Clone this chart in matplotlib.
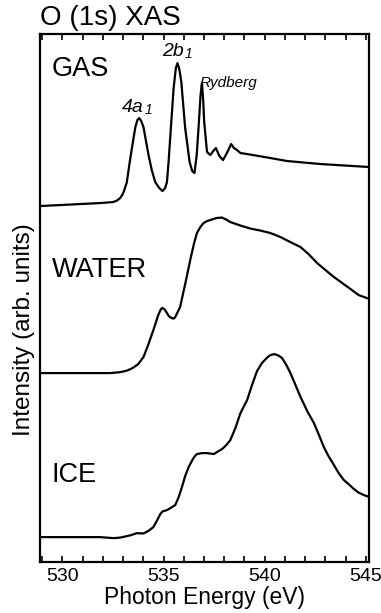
import matplotlib
matplotlib.use('Agg')
import matplotlib.pyplot as plt
from matplotlib.ticker import MultipleLocator

# Photon energy (eV) and intensity (arb. units)
gas_e = [528.90, 531.87, 532.20, 532.51, 532.70, 532.86, 532.96, 533.05, 533.19, 533.31,
         533.44, 533.61, 533.71, 533.80, 533.90, 534.01, 534.26, 534.42, 534.59, 534.79,
         534.95, 535.08, 535.17, 535.25, 535.33, 535.50, 535.61, 535.69, 535.78, 535.88,
         536.07, 536.29, 536.42, 536.53, 536.64, 536.73, 536.83, 536.90, 536.96, 537.01,
         537.15, 537.31, 537.46, 537.59, 537.76, 537.94, 538.13, 538.34, 538.48, 538.63,
         538.80, 539.13, 540.28, 541.11, 542.76, 545.18]
gas_i = [356, 359, 359.5, 360, 361.5, 364, 367, 371, 380, 397,
         414, 435, 442, 444, 441, 435, 407, 392, 380, 374,
         371, 374, 380, 400, 424, 474, 494, 499, 493, 480,
         434, 400, 391, 389, 407, 434, 467, 479, 462, 440,
         410, 407, 411, 414, 406, 402, 409, 418, 414, 412,
         409, 408, 404, 401, 398, 395]

water_e = [528.90, 532.36, 532.80, 533.00, 533.19, 533.35, 533.51, 533.75, 534.01, 534.24,
           534.50, 534.74, 534.85, 534.92, 535.00, 535.08, 535.26, 535.40, 535.50, 535.58,
           535.65, 535.82, 536.07, 536.32, 536.50, 536.65, 536.82, 536.98, 537.15, 537.31,
           537.61, 537.89, 538.10, 538.30, 538.80, 539.29, 539.79, 540.28, 540.78, 541.36,
           541.77, 542.16, 542.59, 543.00, 543.42, 543.83, 544.24, 544.64, 545.18]
water_i = [189, 189, 189.8, 190.5, 191.5, 192.8, 194.5, 198, 205, 217,
           232, 247, 252, 254, 253.5, 252, 246, 244, 243.5, 245,
           248, 255, 278, 302, 318, 329, 335, 339, 341, 342,
           344, 344.5, 342.5, 340, 336.5, 333.5, 331.5, 329, 325, 319,
           315, 308, 299, 292, 285, 279, 273, 267, 263]

ice_e = [528.90, 531.87, 532.52, 532.86, 533.19, 533.40, 533.68, 533.85, 534.01, 534.24,
         534.50, 534.69, 534.84, 534.92, 534.99, 535.17, 535.38, 535.58, 535.75, 535.91,
         536.07, 536.24, 536.45, 536.55, 536.65, 536.90, 537.15, 537.48, 537.68, 537.89,
         538.10, 538.30, 538.55, 538.80, 539.13, 539.37, 539.62, 539.86, 540.12, 540.28,
         540.48, 540.68, 540.86, 541.07, 541.27, 541.52, 541.77, 542.10, 542.43, 542.66,
         542.92, 543.15, 543.42, 543.65, 543.91, 544.14, 544.41, 544.64, 544.90, 545.18]
ice_i = [25, 25, 24, 24.5, 26, 27, 29, 28.7, 28.7, 31,
         35, 42, 48, 50, 51, 52, 54.5, 57, 65, 75,
         86, 95, 103, 106, 108, 109, 109, 108, 110.5, 113,
         117, 122, 134, 149, 162, 177, 191, 199, 204.5, 207,
         208, 206.5, 204, 197, 189, 177, 165, 151, 139, 128,
         115, 106, 97, 89, 82, 78, 73, 69.5, 67, 65]

plt.rcParams['font.family'] = ['Liberation Sans', 'DejaVu Sans']

fig = plt.figure(figsize=(3.81, 6.13), dpi=100)
ax = fig.add_axes([0.105, 0.083, 0.8635, 0.8615])

for e, i in [(gas_e, gas_i), (water_e, water_i), (ice_e, ice_i)]:
    ax.plot(e, i, color='black', lw=1.6, solid_joinstyle='round')

ax.set_xlim(528.9, 545.15)
ax.set_ylim(0, 528)
ax.set_yticks([])
ax.xaxis.set_major_locator(MultipleLocator(5))
ax.xaxis.set_minor_locator(MultipleLocator(1))
ax.tick_params(axis='x', which='both', direction='in', top=True, length=4.5, width=1.2,
               labelsize=14, pad=4)
for s in ax.spines.values():
    s.set_linewidth(1.6)

ax.set_xlabel('Photon Energy (eV)', fontsize=16.5, labelpad=1)
ax.set_ylabel('Intensity (arb. units)', fontsize=17.5)
ax.yaxis.set_label_coords(-0.015, 0.44)

ax.text(0.036, 0.920, 'GAS', transform=ax.transAxes, fontsize=19.5, va='baseline')
ax.text(0.036, 0.540, 'WATER', transform=ax.transAxes, fontsize=19.5, va='baseline')
ax.text(0.036, 0.1515, 'ICE', transform=ax.transAxes, fontsize=19.5, va='baseline')

# peak labels with italic subscripts
for x, y, main in [(532.96, 450, '4a'), (534.94, 506, '2b')]:
    t = ax.text(x, y, main, fontsize=14, style='italic', va='baseline')
    ax.annotate('1', xy=(1, 0), xycoords=t, xytext=(0.5, -1), textcoords='offset points',
                fontsize=10, style='italic', va='bottom', ha='left')
ax.text(536.77, 475, 'Rydberg', fontsize=11, style='italic', va='baseline')

fig.text(0.105, 0.959, 'O (1s) XAS', fontsize=20, va='baseline')

fig.savefig('out.png', dpi=100)
